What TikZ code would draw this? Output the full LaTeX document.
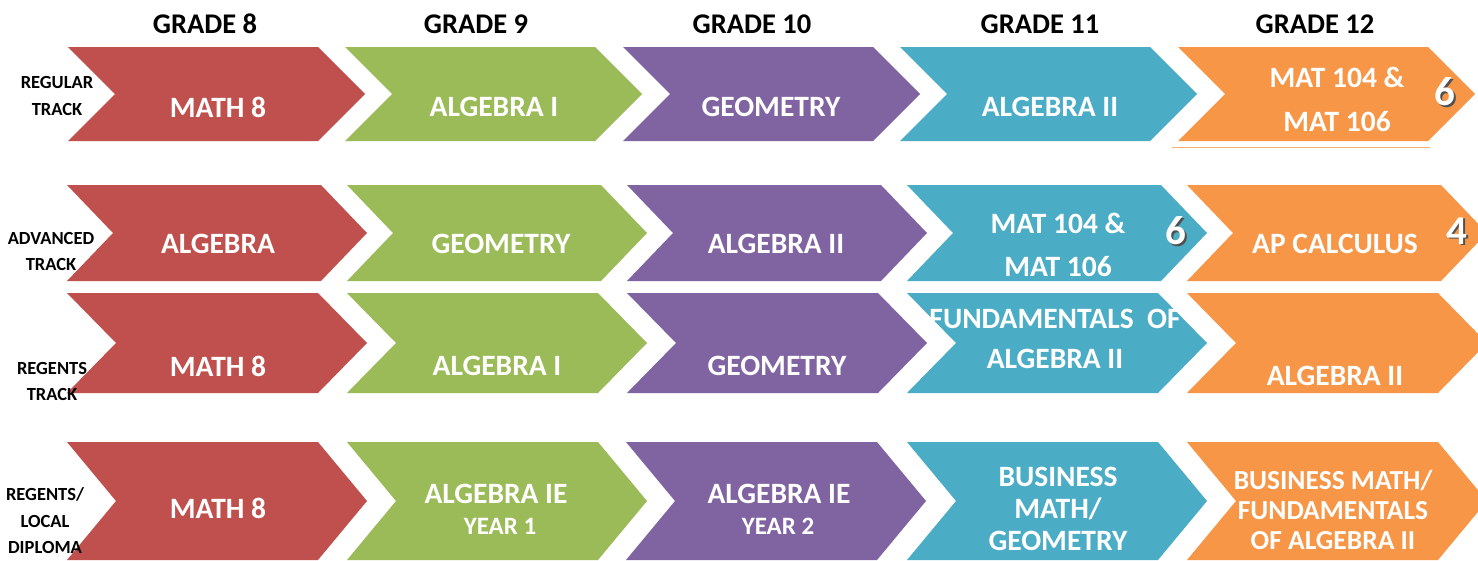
\documentclass[tikz,border=0pt]{standalone}
\usepackage{fontspec}
\setmainfont{Carlito}
\definecolor{cred}{HTML}{C0504D}
\definecolor{cgreen}{HTML}{9BBB59}
\definecolor{cpurple}{HTML}{8064A2}
\definecolor{cblue}{HTML}{4BACC6}
\definecolor{corange}{HTML}{F79646}
\definecolor{cshadow}{HTML}{505050}
\begin{document}
\begin{tikzpicture}[x=1pt,y=-1pt,
  lab/.style={font=\fontsize{18.5}{26.5}\selectfont\bfseries, align=center, text=black, inner sep=0pt},
  hdr/.style={font=\fontsize{28.5}{32}\selectfont\bfseries, text=black, inner sep=0pt},
  ctext/.style={font=\fontsize{29.5}{44}\selectfont\bfseries, text=white, align=center, inner sep=0pt},
  small/.style={font=\fontsize{25}{28}\selectfont\bfseries, text=white, inner sep=0pt},
  digit/.style={font=\fontsize{41}{41}\selectfont\bfseries, text=white, inner sep=0pt},
  digitshadow/.style={font=\fontsize{41}{41}\selectfont\bfseries, text=cshadow, inner sep=0pt}
]
\useasboundingbox (0,0) rectangle (1478,560);
\clip (0,0) rectangle (1478,560);
\fill[white] (0,0) rectangle (1478,560);

% row 1 chevrons
\foreach \l/\c in {68/cred,345/cgreen,623/cpurple,900/cblue,1178/corange}
  {\fill[\c] (\l,47) -- (\l+250,47) -- (\l+297,94) -- (\l+250,141) -- (\l,141) -- (\l+47,94) -- cycle;}
\draw[corange!75, line width=1.5pt] (1172,147.5) -- (1430,147.5);
% row 2 chevrons
\foreach \l/\c in {67/cred,347/cgreen,627/cpurple,907/cblue,1187/corange}
  {\fill[\c] (\l,185) -- (\l+254,185) -- (\l+300,233) -- (\l+254,281) -- (\l,281) -- (\l+46,233) -- cycle;}
% row 3 chevrons
\foreach \l/\c in {67/cred,347/cgreen,627/cpurple,907/cblue,1187/corange}
  {\fill[\c] (\l,293) -- (\l+251,293) -- (\l+300,343) -- (\l+251,393) -- (\l,393) -- (\l+49,343) -- cycle;}
% row 4 chevrons
\foreach \l/\c in {67/cred,347/cgreen,626/cpurple,907/cblue,1187/corange}
  {\fill[\c] (\l,442) -- (\l+251,442) -- (\l+300,501) -- (\l+251,560) -- (\l,560) -- (\l+49,501) -- cycle;}

% headers
\node[hdr] (g8) at (205,24) {GRADE 8};
\node[hdr] (g9) at (476,24) {GRADE 9};
\node[hdr] (g10) at (752,24) {GRADE 10};
\node[hdr] (g11) at (1040,24) {GRADE 11};
\node[hdr] (g12) at (1315,24) {GRADE 12};

% row 1 texts
\node[ctext] (r1a) at (218,107) {MATH 8};
\node[ctext] (r1b) at (494,107) {ALGEBRA I};
\node[ctext] (r1c) at (771,107) {GEOMETRY};
\node[ctext] (r1d) at (1050,107) {ALGEBRA II};
\node[ctext] (r1e) at (1337,99) {MAT 104 \&\\MAT 106};
\node[digitshadow] (r1s) at (1446.5,93.5) {6};
\node[digit] (r1n) at (1445,92) {6};

% row 2 texts
\node[ctext] (r2a) at (218,244) {ALGEBRA};
\node[ctext] (r2b) at (501,244) {GEOMETRY};
\node[ctext] (r2c) at (776,244) {ALGEBRA II};
\node[ctext, font=\fontsize{29.5}{43}\selectfont\bfseries] (r2d) at (1058,244.5) {MAT 104 \&\\MAT 106};
\node[digitshadow] (r2s) at (1177.5,232.5) {6};
\node[digit] (r2n) at (1176,231) {6};
\node[ctext] (r2e) at (1335,244) {AP CALCULUS};
\node[digitshadow] (r2t) at (1458.5,232.5) {4};
\node[digit] (r2m) at (1457,231) {4};

% row 3 texts
\node[ctext] (r3a) at (218,366) {MATH 8};
\node[ctext] (r3b) at (497,366) {ALGEBRA I};
\node[ctext] (r3c) at (777,366) {GEOMETRY};
\node[ctext, font=\fontsize{29.5}{40}\selectfont\bfseries] (r3d) at (1055,339) {FUNDAMENTALS\ \ OF\\ALGEBRA II};
\node[ctext] (r3e) at (1335,376) {ALGEBRA II};

% row 4 texts
\node[ctext] (r4a) at (218,508) {MATH 8};
\node[ctext] (r4b) at (496,494) {ALGEBRA IE};
\node[small] (r4b2) at (500,526) {YEAR 1};
\node[ctext] (r4c) at (779,494) {ALGEBRA IE};
\node[small] (r4c2) at (778,526) {YEAR 2};
\node[ctext, font=\fontsize{29.5}{32}\selectfont\bfseries] (r4d) at (1058,509) {BUSINESS\\MATH/\\GEOMETRY};
\node[ctext, font=\fontsize{27.5}{30}\selectfont\bfseries] (r4e) at (1333,510) {BUSINESS MATH/\\FUNDAMENTALS\\OF ALGEBRA II};

% left labels
\node[lab] (l1) at (57,96) {REGULAR\\TRACK};
\node[lab] (l2) at (51,251.5) {ADVANCED\\TRACK};
\node[lab] (l3) at (52,381.5) {REGENTS\\TRACK};
\node[lab] (l4) at (45,521) {REGENTS/\\LOCAL\\DIPLOMA};
\end{tikzpicture}
\end{document}
